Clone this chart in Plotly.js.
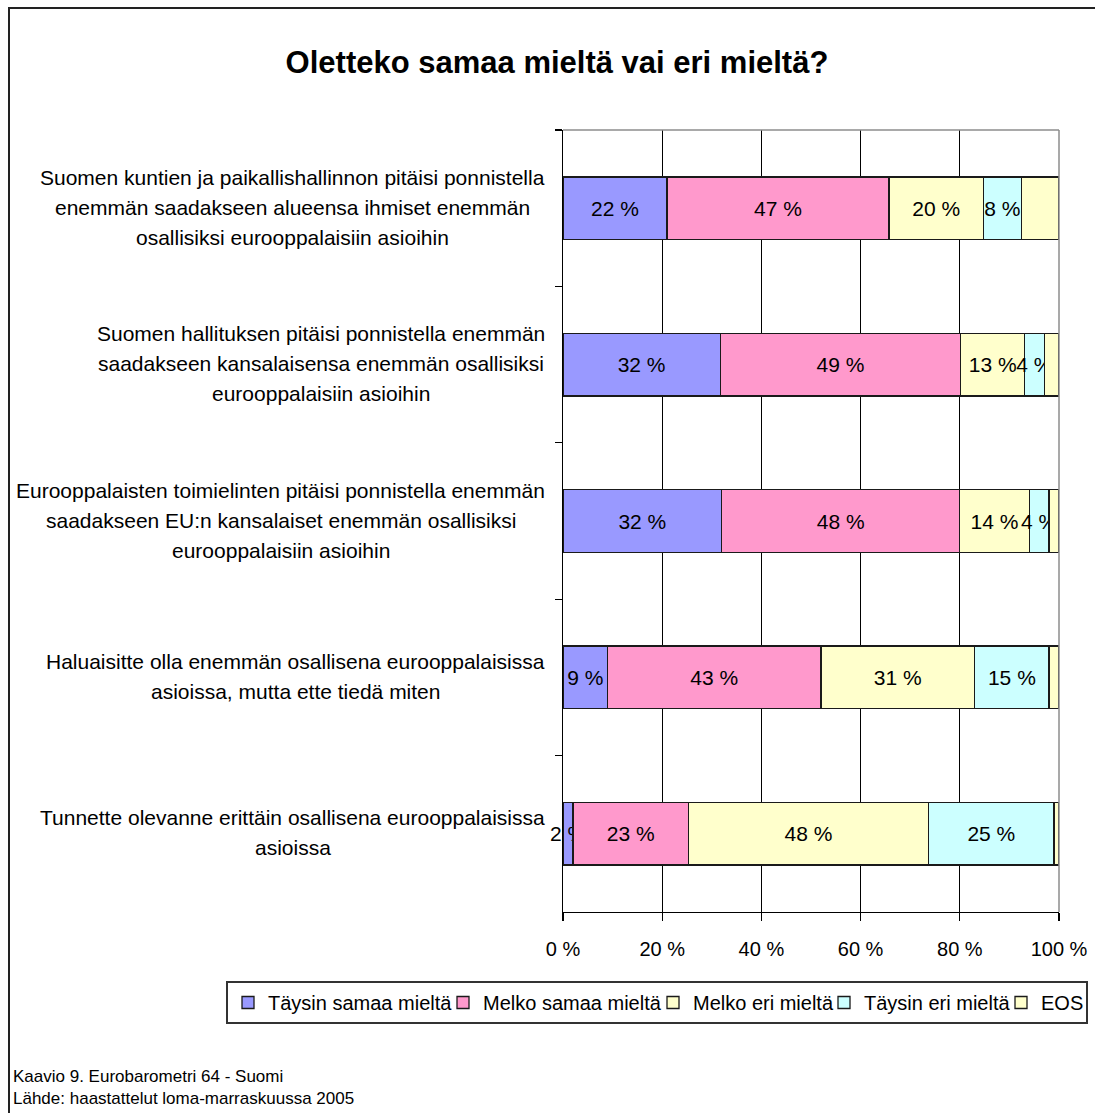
<!DOCTYPE html>
<html>
<head>
<meta charset="utf-8">
<script src="https://cdn.plot.ly/plotly-3.0.1.min.js"></script>
<style>
html, body { margin: 0; padding: 0; overflow: hidden; background: #fff; }
#chart { width: 1130px; height: 1130px; }
</style>
</head>
<body>
<div id="chart"></div>
<script>
// ---------- DATA ----------
const categories = [
  "Suomen kuntien ja paikallishallinnon pitäisi ponnistella<br>enemmän saadakseen alueensa ihmiset enemmän<br>osallisiksi eurooppalaisiin asioihin",
  "Suomen hallituksen pitäisi ponnistella enemmän<br>saadakseen kansalaisensa enemmän osallisiksi<br>eurooppalaisiin asioihin",
  "Eurooppalaisten toimielinten pitäisi ponnistella enemmän<br>saadakseen EU:n kansalaiset enemmän osallisiksi<br>eurooppalaisiin asioihin",
  "Haluaisitte olla enemmän osallisena eurooppalaisissa<br>asioissa, mutta ette tiedä miten",
  "Tunnette olevanne erittäin osallisena eurooppalaisissa<br>asioissa"
];
const seriesNames = ["Täysin samaa mieltä", "Melko samaa mieltä", "Melko eri mieltä", "Täysin eri mieltä", "EOS"];
const taysinSamaa = [22, 32, 32, 9, 2];
const melkoSamaa  = [47, 49, 48, 43, 23];
const melkoEri    = [20, 13, 14, 31, 48];
const taysinEri   = [8, 4, 4, 15, 25];
const eos         = [8, 3, 2, 2, 1];
const showLabels  = [true, true, true, true, false];
const xTickValues = [0, 20, 40, 60, 80, 100];
const titleText = "Oletteko samaa mieltä vai eri mieltä?";
const footerLines = ["Kaavio 9. Eurobarometri 64 - Suomi", "Lähde: haastattelut loma-marraskuussa 2005"];

// ---------- STYLE / GEOMETRY ----------
const colors = ["#9999FF", "#FF99CC", "#FFFFCC", "#CCFFFF", "#FFFFCC"];
const legendWidths = [170, 165, 126, 132, 40];
const FONT = "Liberation Sans, Arial, sans-serif";
const W = 1130, H = 1130;
const ML = 563, MT = 130, PR = 1059, PB = 912;
const PW = PR - ML, PH = PB - MT;
const px2x = px => (px - ML) / PW;
const px2y = py => 1 - (py - MT) / PH;

const allSeries = [taysinSamaa, melkoSamaa, melkoEri, taysinEri, eos];
const traces = allSeries.map((vals, i) => ({
  type: "bar",
  orientation: "h",
  name: seriesNames[i],
  y: categories,
  x: vals,
  text: vals.map(v => showLabels[i] ? v + " %" : ""),
  textposition: "inside",
  insidetextanchor: "middle",
  textangle: 0,
  constraintext: "none",
  textfont: { family: FONT, size: 21, color: "#000" },
  marker: { color: colors[i], line: { color: "#1a1a1a", width: 1.3 } },
  legendwidth: legendWidths[i],
  hoverinfo: "skip",
  cliponaxis: false
}));

// Category label annotations (one per line, 30px line spacing, centred block right-aligned at 545px)
const canvas = document.createElement("canvas");
const ctx = canvas.getContext("2d");
ctx.font = "21px 'Liberation Sans'";
const annotations = [];
categories.forEach(cat => {
  const lines = cat.split("<br>");
  const maxW = Math.max(...lines.map(l => ctx.measureText(l).width));
  const cx = 545 - maxW / 2;
  const mid = (lines.length - 1) / 2;
  lines.forEach((line, j) => {
    annotations.push({
      xref: "paper", yref: "y",
      x: px2x(cx), y: cat,
      xanchor: "center", yanchor: "middle",
      yshift: (mid - j) * 30 + 1,
      text: line, showarrow: false,
      font: { family: FONT, size: 21, color: "#000" }
    });
  });
});
footerLines.forEach((t, k) => {
  annotations.push({
    xref: "paper", yref: "paper",
    x: px2x(11), y: px2y(k === 0 ? 1076 : 1098),
    xanchor: "left", yanchor: "middle",
    text: t, showarrow: false,
    font: { family: FONT, size: 17, color: "#000" }
  });
});

const shapes = [
  // plot area border (grey top & right)
  { type: "line", xref: "paper", yref: "paper", x0: 0, x1: 1, y0: 1, y1: 1, line: { color: "#8c8c8c", width: 1.5 }, layer: "above" },
  { type: "line", xref: "paper", yref: "paper", x0: 1, x1: 1, y0: 0, y1: 1, line: { color: "#8c8c8c", width: 1.5 }, layer: "above" },
  // outer chart frame (left & top)
  { type: "line", xref: "paper", yref: "paper", x0: px2x(9), x1: px2x(9), y0: px2y(8), y1: px2y(H + 20), line: { color: "#222", width: 2 }, layer: "above" },
  { type: "line", xref: "paper", yref: "paper", x0: px2x(8), x1: px2x(W + 20), y0: px2y(8), y1: px2y(8), line: { color: "#222", width: 2 }, layer: "above" }
];

const layout = {
  width: W, height: H,
  margin: { l: ML, r: W - PR, t: MT, b: H - PB, pad: 0 },
  paper_bgcolor: "#fff", plot_bgcolor: "#fff",
  font: { family: FONT, color: "#000", size: 20 },
  title: {
    text: titleText,
    font: { family: FONT, size: 31, color: "#000", weight: "bold" },
    x: 557 / W, xref: "container", xanchor: "center",
    y: 1 - 62 / H, yref: "container", yanchor: "middle"
  },
  barmode: "stack",
  barnorm: "percent",
  bargap: 0.6,
  showlegend: true,
  legend: {
    orientation: "h",
    x: px2x(226), xanchor: "left",
    y: px2y(981), yanchor: "top",
    traceorder: "normal",
    bordercolor: "#333", borderwidth: 2, bgcolor: "#fff",
    font: { family: FONT, size: 20, color: "#000" }
  },
  xaxis: {
    range: [0, 100], fixedrange: true,
    tickvals: xTickValues, ticktext: xTickValues.map(v => v + " %"),
    ticks: "outside", ticklen: 8, tickcolor: "#000", tickwidth: 1.3,
    showline: true, linecolor: "#000", linewidth: 1.3,
    showgrid: true, gridcolor: "#000", gridwidth: 1.3,
    zeroline: false,
    ticklabelstandoff: 11,
    tickfont: { family: FONT, size: 20, color: "#000" }
  },
  yaxis: {
    type: "category", autorange: "reversed", fixedrange: true,
    categoryorder: "array", categoryarray: categories,
    showticklabels: false,
    ticks: "outside", tickson: "boundaries", ticklen: 7, tickcolor: "#000", tickwidth: 1.3,
    showline: true, linecolor: "#000", linewidth: 1.3,
    showgrid: false, zeroline: false
  },
  annotations: annotations,
  shapes: shapes
};

Plotly.newPlot("chart", traces, layout, { displayModeBar: false, staticPlot: true });
</script>
</body>
</html>
